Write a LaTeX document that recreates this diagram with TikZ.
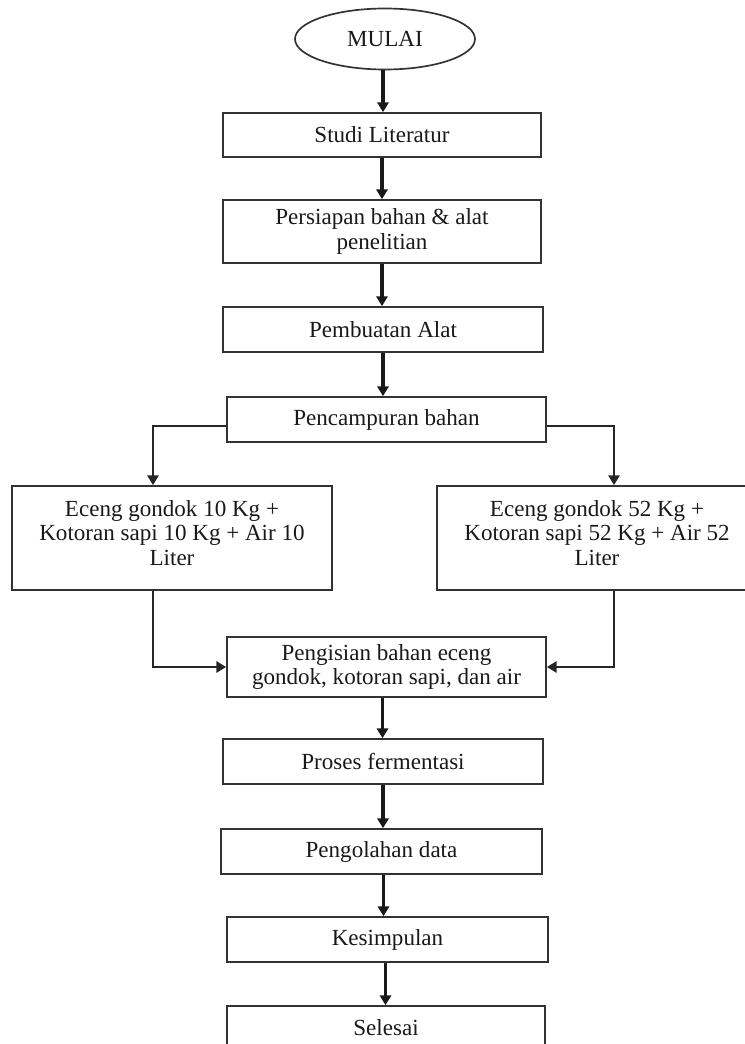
\documentclass[tikz,border=0pt]{standalone}
\usepackage{fontspec}
\setmainfont{Liberation Serif}
\usetikzlibrary{arrows.meta,shapes.geometric}
\begin{document}
\begin{tikzpicture}[
    kotak/.style={draw=black!80,line width=1.2pt,rectangle,align=center,text=black!90,
        font=\fontsize{16.4}{17.4}\selectfont,inner sep=2pt},
    panah/.style={line width=2.3pt,draw=black!90,-{Triangle[width=8pt,length=7pt]}},
    cabang/.style={line width=1.6pt,draw=black!85,-{Triangle[width=8pt,length=7pt]}}]
        \useasboundingbox (0,0) rectangle (18.625,-26.1);
        %% start
        \node[kotak,ellipse,minimum width=4.5cm,minimum height=1.525cm] (mulai) at (9.625,-0.975) {MULAI};
        %% steps
        \node[kotak,minimum width=7.95cm,minimum height=1.1cm] (studi) at (9.55,-3.375) {Studi Literatur};
        \node[kotak,minimum width=7.95cm,minimum height=1.575cm] (persiapan) at (9.55,-5.7875) {Persiapan bahan \& alat\\penelitian};
        \node[kotak,minimum width=8cm,minimum height=1.125cm] (pembuatan) at (9.575,-8.2375) {Pembuatan Alat};
        \node[kotak,minimum width=7.975cm,minimum height=1.125cm] (campur) at (9.6625,-10.4875) {Pencampuran bahan};
        %% two mixtures
        \node[kotak,minimum width=8cm,minimum height=2.6cm] (kiri) at (4.3,-13.45) {Eceng gondok 10 Kg +\\Kotoran sapi 10 Kg + Air 10\\Liter\\[-0.35cm]};
        \node[kotak,minimum width=8cm,minimum height=2.6cm] (kanan) at (14.925,-13.45) {Eceng gondok 52 Kg +\\Kotoran sapi 52 Kg + Air 52\\Liter\\[-0.35cm]};
        \node[kotak,minimum width=7.975cm,minimum height=1.5cm] (isi) at (9.6625,-16.675) {Pengisian bahan eceng\\gondok, kotoran sapi, dan air};
        \node[kotak,minimum width=8cm,minimum height=1.125cm] (fermentasi) at (9.575,-19.0375) {Proses fermentasi};
        \node[kotak,minimum width=8.025cm,minimum height=1.125cm] (olah) at (9.5375,-21.2875) {Pengolahan data};
        \node[kotak,minimum width=8.025cm,minimum height=1.125cm] (simpul) at (9.6875,-23.4875) {Kesimpulan};
        \node[kotak,minimum width=7.95cm,minimum height=1.1cm] (selesai) at (9.65,-25.7) {Selesai};
        %% arrows
        \draw[panah] ([xshift=-0.05cm]mulai.south) -- ([xshift=-0.05cm]mulai.south |- studi.north);
        \draw[panah] (studi.south) -- (studi.south |- persiapan.north);
        \draw[panah] (persiapan.south) -- (persiapan.south |- pembuatan.north);
        \draw[panah] (pembuatan.south) -- (pembuatan.south |- campur.north);
        \draw[cabang] ([yshift=-0.16cm]campur.west) -| ([xshift=-0.475cm]kiri.north);
        \draw[cabang] ([yshift=-0.16cm]campur.east) -| ([xshift=0.425cm]kanan.north);
        \draw[cabang] ([xshift=-0.475cm]kiri.south) |- (isi.west);
        \draw[cabang] ([xshift=0.425cm]kanan.south) |- (isi.east);
        \draw[panah] ([xshift=-0.1cm]isi.south) -- ([xshift=-0.1cm]isi.south |- fermentasi.north);
        \draw[panah] (fermentasi.south) -- (fermentasi.south |- olah.north);
        \draw[panah] ([xshift=0.05cm]olah.south) -- ([xshift=0.05cm]olah.south |- simpul.north);
        \draw[panah] ([xshift=-0.05cm]simpul.south) -- ([xshift=-0.05cm]simpul.south |- selesai.north);
    \end{tikzpicture}
\end{document}
